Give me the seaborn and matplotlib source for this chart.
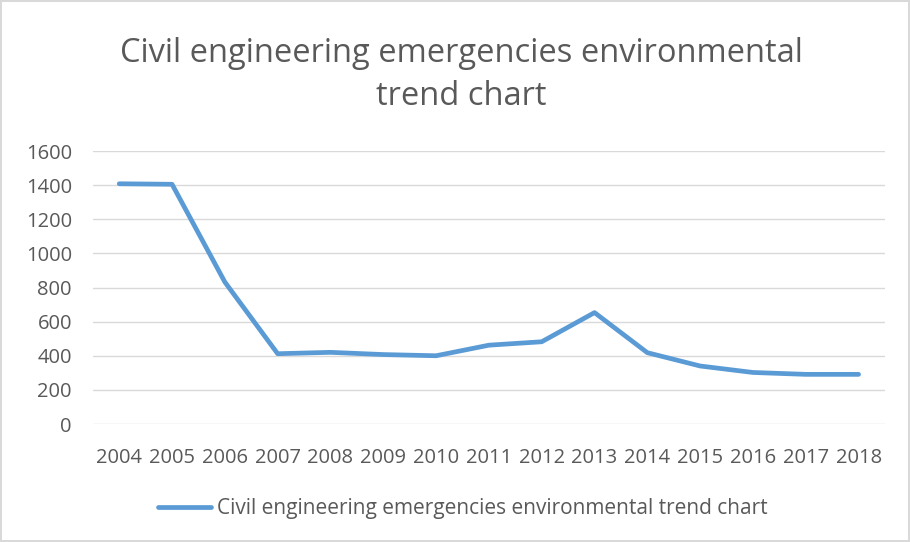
import numpy as np
import pandas as pd
import matplotlib.pyplot as plt
import seaborn as sns

# data
years = ['2004', '2005', '2006', '2007', '2008', '2009', '2010', '2011',
         '2012', '2013', '2014', '2015', '2016', '2017', '2018']
values = [1408, 1405, 832, 412, 420, 407, 400, 462,
          482, 653, 418, 340, 302, 291, 291]
series_name = 'Civil engineering emergencies environmental trend chart'
title = 'Civil engineering emergencies environmental\ntrend chart'
y_ticks = [0, 200, 400, 600, 800, 1000, 1200, 1400, 1600]

df = pd.DataFrame({'year': years, 'value': values, 'series': series_name})

sns.set_style('white')
plt.rcParams['font.family'] = ['Open Sans', 'DejaVu Sans']
text_col = '#595959'

fig = plt.figure(figsize=(9.1, 5.42), dpi=100)
fig.patch.set_edgecolor('#D9D9D9')
fig.patch.set_linewidth(1.5)
ax = fig.add_axes([0.102, 0.2177, 0.8705, 0.5037])

sns.lineplot(data=df, x='year', y='value', hue='series', sort=False,
             palette=['#5B9BD5'], linewidth=3.4, ax=ax, legend=True)

ax.set_xlim(-0.5, len(years) - 0.5)
ax.set_ylim(0, 1600)
ax.set_yticks(y_ticks)
ax.yaxis.grid(True, color='#D9D9D9', linewidth=1)
ax.set_axisbelow(True)
for s in ax.spines.values():
    s.set_visible(False)
ax.tick_params(axis='both', length=0, labelsize=14.5, colors=text_col)
ax.tick_params(axis='x', pad=17)
ax.tick_params(axis='y', pad=15)
ax.set_xlabel('')
ax.set_ylabel('')

fig.text(0.507, 0.862, title, ha='center', va='center', fontsize=23.5,
         color=text_col, linespacing=1.42)

leg = ax.legend(loc='center', bbox_to_anchor=(0.467, -0.31), frameon=False,
                fontsize=15, handlelength=2.55, handletextpad=0.25)
for t in leg.get_texts():
    t.set_color(text_col)

fig.savefig('out.png', dpi=100, edgecolor=fig.get_edgecolor())
